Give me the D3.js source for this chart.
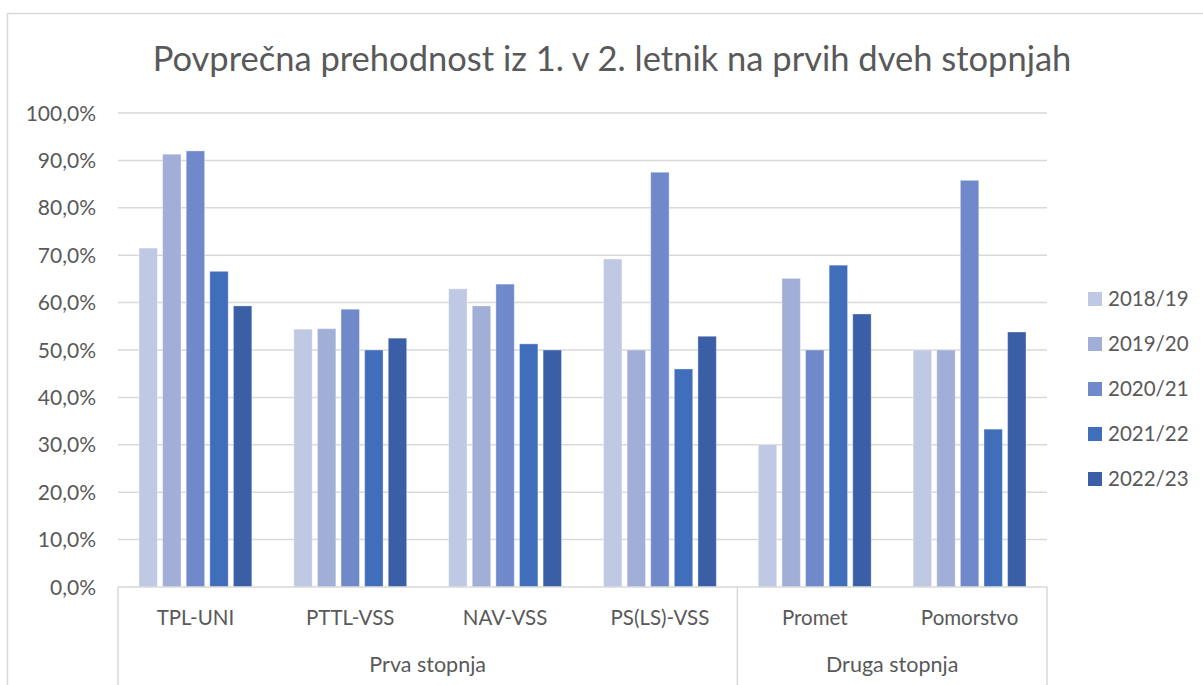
<!DOCTYPE html>
<html>
<head>
<meta charset="utf-8">
<script src="https://cdn.jsdelivr.net/npm/d3@7"></script>
<style>
  body { margin: 0; background: #fff; }
  text { font-family: Lato, "Open Sans", sans-serif; fill: #595959; }
</style>
</head>
<body>
<div id="chart"></div>
<script>
"use strict";

const title = "Povprečna prehodnost iz 1. v 2. letnik na prvih dveh stopnjah";
const categories = ["TPL-UNI", "PTTL-VSS", "NAV-VSS", "PS(LS)-VSS", "Promet", "Pomorstvo"];
const groups = [
    { name: "Prva stopnja", from: "TPL-UNI", to: "PS(LS)-VSS" },
    { name: "Druga stopnja", from: "Promet", to: "Pomorstvo" }
];
const years = ["2018/19", "2019/20", "2020/21", "2021/22", "2022/23"];
const colors = ["#c0c9e3", "#a0aed8", "#6f89cb", "#406ebb", "#3a5fa6"];
// one array per year, in category order
const v2018 = [71.5, 54.4, 62.9, 69.2, 30.0, 50.0];
const v2019 = [91.3, 54.5, 59.3, 50.0, 65.1, 50.0];
const v2020 = [92.0, 58.6, 63.9, 87.5, 50.0, 85.8];
const v2021 = [66.6, 50.0, 51.3, 46.0, 67.9, 33.3];
const v2022 = [59.3, 52.5, 50.0, 52.9, 57.6, 53.8];
const yTicks = [0, 10, 20, 30, 40, 50, 60, 70, 80, 90, 100];

const msm = {
    width: 1203,
    height: 685,
    left: 118,
    right: 1047,
    top: 113,
    bottom: 587
}

const series = [v2018, v2019, v2020, v2021, v2022];
const rows = [];
categories.forEach((c, i) => {
    years.forEach((y, j) => rows.push({ cat: c, year: y, value: series[j][i] }));
});

const svg = d3.select("#chart")
    .append("svg")
    .attr("width", msm.width)
    .attr("height", msm.height);

// chart frame
svg.append("path")
    .attr("d", "M7.5," + msm.height + "V13.5H" + msm.width)
    .attr("fill", "none")
    .attr("stroke", "#d9d9d9")
    .attr("stroke-width", 1.5);

// title
svg.append("text")
    .attr("x", 612)
    .attr("y", 71)
    .attr("text-anchor", "middle")
    .style("font-size", "34.5px")
    .text(title);

// scales
const x0 = d3.scaleBand()
    .domain(categories)
    .range([msm.left, msm.right]);

const x1 = d3.scaleBand()
    .domain(years)
    .range([21, x0.bandwidth() - 21])
    .paddingInner(0.22);

const y = d3.scaleLinear()
    .domain([0, 100])
    .range([msm.bottom, msm.top]);

// gridlines and y labels
svg.append("g")
    .selectAll("line")
    .data(yTicks.filter(t => t > 0))
    .enter()
    .append("line")
    .attr("x1", msm.left)
    .attr("x2", msm.right)
    .attr("y1", d => y(d))
    .attr("y2", d => y(d))
    .attr("stroke", "#d9d9d9")
    .attr("stroke-width", 1.5);

svg.append("g")
    .selectAll("text")
    .data(yTicks)
    .enter()
    .append("text")
    .attr("x", 96)
    .attr("y", d => y(d))
    .attr("dy", "0.36em")
    .attr("text-anchor", "end")
    .style("font-size", "21px")
    .text(d => d.toFixed(1).replace(".", ",") + "%");

// bars
svg.append("g")
    .selectAll("rect")
    .data(rows)
    .enter()
    .append("rect")
    .attr("x", d => x0(d.cat) + x1(d.year))
    .attr("y", d => y(d.value))
    .attr("width", x1.bandwidth())
    .attr("height", d => y(0) - y(d.value))
    .attr("fill", d => colors[years.indexOf(d.year)])
    .attr("stroke", "#ffffff")
    .attr("stroke-opacity", 0.35)
    .attr("stroke-width", 1);

// category axis
const axisG = svg.append("g").attr("stroke", "#d9d9d9").attr("stroke-width", 1.5);
axisG.append("line")
    .attr("x1", msm.left).attr("x2", msm.right)
    .attr("y1", msm.bottom).attr("y2", msm.bottom);

const sepX = [msm.left, x0(groups[1].from), msm.right];
axisG.selectAll(".sep")
    .data(sepX)
    .enter()
    .append("line")
    .attr("x1", d => d).attr("x2", d => d)
    .attr("y1", msm.bottom).attr("y2", msm.height);

svg.append("g")
    .selectAll("text")
    .data(categories)
    .enter()
    .append("text")
    .attr("x", d => x0(d) + x0.bandwidth() / 2)
    .attr("y", 625)
    .attr("text-anchor", "middle")
    .style("font-size", "20.5px")
    .text(d => d);

svg.append("g")
    .selectAll("text")
    .data(groups)
    .enter()
    .append("text")
    .attr("x", d => (x0(d.from) + x0(d.to) + x0.bandwidth()) / 2)
    .attr("y", 672)
    .attr("text-anchor", "middle")
    .style("font-size", "21.5px")
    .text(d => d.name);

// legend
const legend = svg.append("g")
    .selectAll("g")
    .data(years)
    .enter()
    .append("g")
    .attr("transform", (d, i) => "translate(1088," + (299 + i * 45) + ")");

legend.append("rect")
    .attr("x", 0)
    .attr("y", -7)
    .attr("width", 14)
    .attr("height", 14)
    .attr("fill", (d, i) => colors[i]);

legend.append("text")
    .attr("x", 20)
    .attr("dy", "0.36em")
    .style("font-size", "20.5px")
    .text(d => d);
</script>
</body>
</html>
